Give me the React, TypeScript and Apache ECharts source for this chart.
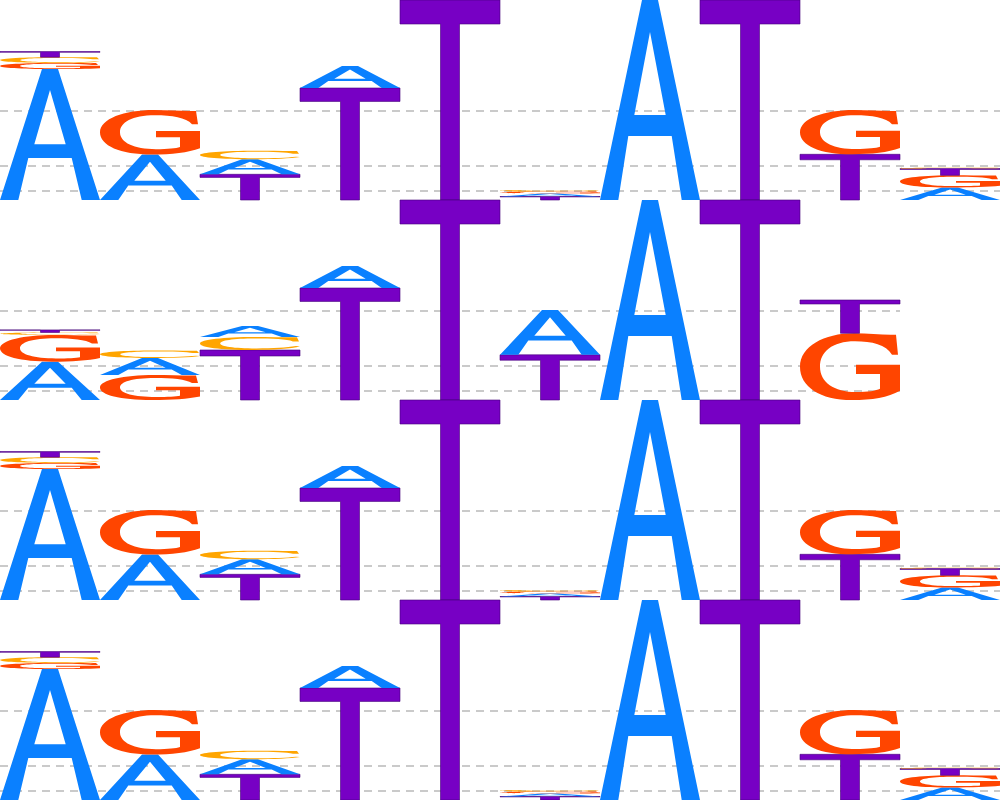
import React, { useEffect, useRef } from "react";
import * as echarts from "echarts";

// ---- data (information content in bits per position) ----
const letters = ["A", "C", "G", "T"];
const letterColors = ["#0a80ff", "#ffa500", "#ff4500", "#7700c4"];

// motif shown in rows 1, 3 and 4
const motif1A = [1.31, 0.455, 0.15, 0.22, 0, 0.03, 2.0, 0, 0, 0.125];
const motif1C = [0.058, 0, 0.085, 0, 0, 0.015, 0, 0, 0, 0.008];
const motif1G = [0.06, 0.445, 0, 0, 0, 0.02, 0, 0, 0.443, 0.122];
const motif1T = [0.056, 0, 0.257, 1.12, 2.0, 0.035, 0, 2.0, 0.457, 0.067];

// motif shown in row 2 (9 positions)
const motif2A = [0.383, 0.17, 0.11, 0.22, 0, 0.448, 2.0, 0, 0];
const motif2C = [0.026, 0.075, 0.13, 0, 0, 0, 0, 0, 0];
const motif2G = [0.267, 0.25, 0, 0, 0, 0, 0, 0, 0.667];
const motif2T = [0.025, 0, 0.5, 1.12, 2.0, 0.452, 0, 2.0, 0.333];

const motif1 = [motif1A, motif1C, motif1G, motif1T];
const motif2 = [motif2A, motif2C, motif2G, motif2T];
const rowMotifs = [motif1, motif2, motif1, motif1];

const guideValues = [0.09, 0.343, 0.897];
const maxBits = 2;

// ---- glyph outlines (unit box, stretched to fit each stack cell) ----
const GLYPHS: Record<string, string> = {
  A: "M0,100 L42,0 L58,0 L100,100 L81.7,100 L71.7,68 L28.3,68 L18.3,100 Z M50,16 L34.3,57.5 L65.7,57.5 Z",
  T: "M0,0 L100,0 L100,12 L59.5,12 L59.5,100 L40.5,100 L40.5,12 L0,12 Z",
  G: "M96,2 L98,32 L92,32 C86,17 72,12 55,12 C32,12 20,28 20,50 C20,73 34,88 56,88 C68,88 76,86 80,83 L80,61 L56,61 L56,47 L100,47 L100,86 C88,96 72,100 52,100 C20,100 0,80 0,50 C0,20 24,0 54,0 C70,0 84,3 96,2 Z",
  C: "M96,2 L98,34 L92,34 C86,17 72,12 55,12 C32,12 20,28 20,50 C20,73 34,88 56,88 C72,88 86,82 95,70 L99,74 C90,92 72,100 52,100 C20,100 0,80 0,50 C0,20 24,0 54,0 C70,0 84,3 96,2 Z",
};

function buildStacks(motif: number[][]) {
  const out: number[][] = [];
  const n = motif[0].length;
  for (let p = 0; p < n; p++) {
    const items = letters
      .map((_, li) => ({ li, v: motif[li][p] }))
      .filter((d) => d.v > 0)
      .sort((a, b) => b.v - a.v);
    let base = 0;
    for (const it of items) {
      out.push([p, base, base + it.v, it.li]);
      base += it.v;
    }
  }
  return out;
}

export default function App() {
  const ref = useRef<HTMLDivElement>(null);
  useEffect(() => {
    if (!ref.current) return;
    const chart = echarts.init(ref.current, undefined, { renderer: "svg" });
    const grids: any[] = [];
    const xAxes: any[] = [];
    const yAxes: any[] = [];
    const series: any[] = [];
    rowMotifs.forEach((motif, i) => {
      const len = motif[0].length;
      grids.push({ left: 0, right: 0, top: i * 200, height: 200 });
      xAxes.push({ type: "value", gridIndex: i, min: 0, max: 10, show: false });
      yAxes.push({ type: "value", gridIndex: i, min: 0, max: maxBits, show: false });
      series.push({
        type: "line",
        xAxisIndex: i,
        yAxisIndex: i,
        data: [],
        silent: true,
        markLine: {
          silent: true,
          z: 1,
          symbol: "none",
          label: { show: false },
          lineStyle: { type: [8, 6], color: "#b9b9b9", width: 1.6 },
          data: guideValues.map((v) => [{ coord: [0, v] }, { coord: [len, v] }]),
        },
      });
      series.push({
        type: "custom",
        xAxisIndex: i,
        yAxisIndex: i,
        z: 3,
        data: buildStacks(motif),
        renderItem: (params: any, api: any) => {
          const x = api.value(0);
          const base = api.value(1);
          const top = api.value(2);
          const li = api.value(3);
          const p0 = api.coord([x, base]);
          const p1 = api.coord([x + 1, top]);
          const letter = letters[li];
          return {
            type: "path",
            shape: {
              pathData: GLYPHS[letter],
              layout: "cover",
              x: p0[0],
              y: p1[1],
              width: p1[0] - p0[0],
              height: Math.max(p0[1] - p1[1], 0.2),
            },
            style:
              letter === "T"
                ? { fill: letterColors[li], stroke: "#45007a", lineWidth: 0.6 }
                : { fill: letterColors[li] },
          };
        },
      });
    });
    chart.setOption({
      animation: false,
      backgroundColor: "#ffffff",
      grid: grids,
      xAxis: xAxes,
      yAxis: yAxes,
      series,
    });
    return () => chart.dispose();
  }, []);
  return (
    <div
      ref={ref}
      style={{ position: "fixed", left: 0, top: 0, width: 1000, height: 800, background: "#fff" }}
    />
  );
}
